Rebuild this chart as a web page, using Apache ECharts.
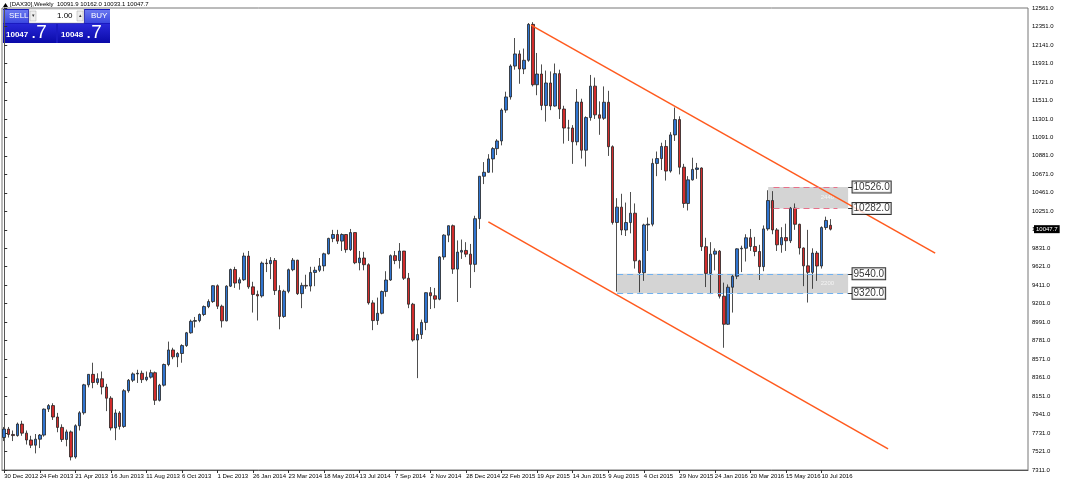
<!DOCTYPE html>
<html><head><meta charset="utf-8">
<script src="https://cdn.jsdelivr.net/npm/echarts@6/dist/echarts.min.js"></script>
<style>html,body{margin:0;padding:0;background:#fff}#c{width:1068px;height:483px}</style>
</head><body><div id="c"></div>
<script>
const opens = [
7680,7776,7715,7702,7833,7730,7652,7593,7661,7708,8003,8043,7913,7795,7658,7744,7459,7814,7961,8279,8398,8305,8348,8254,8127,7789,7959,7806,8212,8331,8403,8410,8338,8366,8417,8103,8275,8510,8675,8597,8635,8725,8870,9001,9009,9078,9168,9225,9405,9172,9006,9400,
9589,9435,9473,9742,9392,9306,9289,9662,9656,9692,9350,9056,9342,9587,9695,9315,9409,9401,9556,9581,9630,9768,9943,9987,9912,9987,9815,10009,9666,9720,9644,9210,9009,9092,9339,9470,9747,9691,9799,9490,9195,8788,8850,8988,9326,9291,9252,9732,9980,10087,9594,9787,9806,
9764,9648,10167,10649,10694,10846,10963,11050,11401,11550,11901,12039,11868,11967,12375,11689,11811,11454,11709,11447,11815,11413,11197,11197,11041,11492,10945,11316,11673,11347,11308,11490,10985,10124,10298,10038,10123,10229,9688,9553,10096,10104,10795,10850,10988,10708,11119,11293,10752,10340,10608,10727,
10743,9849,9545,9764,9798,9286,8967,9388,9513,9824,9831,9950,9851,9794,9622,10051,10373,10039,9870,9952,9916,10286,10103,9834,9631,9557,9776,9629,10066,10091.9];
const closes = [
7776,7715,7702,7833,7730,7652,7593,7661,7708,8003,8043,7913,7795,7658,7744,7459,7814,7961,8279,8398,8305,8348,8254,8127,7789,7959,7806,8212,8331,8403,8410,8338,8366,8417,8103,8275,8510,8675,8597,8635,8725,8870,9001,9009,9078,9168,9225,9405,9172,9006,9400,9589,
9435,9473,9742,9392,9306,9289,9662,9656,9692,9350,9056,9342,9587,9695,9315,9409,9401,9556,9581,9630,9768,9943,9987,9912,9987,9815,10009,9666,9720,9644,9210,9009,9092,9339,9470,9747,9691,9799,9490,9195,8788,8850,8988,9326,9291,9252,9732,9980,10087,9594,9787,9806,9764,
9648,10167,10649,10694,10846,10963,11050,11401,11550,11901,12039,11868,11967,12375,11689,11811,11454,11709,11447,11815,11413,11197,11197,11041,11492,10945,11316,11673,11347,11308,11490,10985,10124,10298,10038,10123,10229,9688,9553,10096,10104,10795,10850,10988,10708,11119,11293,10752,10340,10608,10727,10743,
9849,9545,9764,9798,9286,8967,9388,9513,9824,9831,9950,9851,9794,9622,10051,10373,10039,9870,9952,9916,10286,10103,9834,9631,9557,9776,9629,10066,10147,10047.7];
const highs = [
7800,7800,7760,7850,7870,7760,7700,7720,7720,8010,8060,8070,7960,7830,7770,7760,7830,7980,8290,8400,8530,8410,8430,8290,8150,8000,7980,8230,8345,8420,8450,8440,8430,8450,8430,8290,8520,8770,8700,8650,8740,8880,9020,9050,9090,9180,9250,9410,9420,9190,9410,9600,
9620,9500,9780,9800,9450,9350,9680,9710,9730,9720,9410,9360,9600,9720,9700,9440,9530,9620,9620,9720,9780,9950,10040,10040,10000,9990,10050,10010,9800,9790,9660,9240,9270,9350,9570,9760,9800,9890,9800,9550,9210,8920,9020,9330,9390,9380,9740,9990,10090,10100,9920,9930,9900,
9880,10200,10650,10810,10900,10980,11070,11420,11610,11920,12220,12080,12100,12390,12400,12050,11920,11850,11840,11930,11860,11450,11290,11230,11640,11530,11330,11800,11770,11500,11670,11620,11000,10400,10450,10350,10470,10340,9700,10110,10180,10850,10930,11030,11060,11150,11430,11330,10790,10650,10860,10800,
10750,9950,9900,9830,9810,9440,9420,9530,9830,9860,9990,10050,9960,9870,10090,10490,10480,10060,10070,10110,10300,10340,10110,9840,10040,9830,9800,10080,10190,10162.0];
const lows = [
7640,7680,7640,7690,7700,7600,7560,7500,7560,7690,7970,7880,7740,7630,7580,7420,7440,7760,7940,8250,8240,8280,8170,7980,7760,7650,7770,7790,8190,8310,8300,8300,8320,8350,8050,8090,8260,8490,8570,8480,8530,8710,8860,8930,8990,9060,9150,9210,9140,8930,9000,9390,
9380,9360,9460,9370,9100,9010,9270,9560,9480,9300,8910,9040,9320,9570,9300,9150,9370,9340,9400,9560,9570,9760,9900,9880,9800,9780,9800,9650,9580,9580,9190,8900,8960,9080,9280,9460,9650,9600,9470,9150,8770,8355,8800,8900,9140,9150,9240,9700,9900,9540,9220,9710,9730,
9380,9560,10050,10560,10690,10690,10890,11000,11370,11520,11860,11700,11810,11950,11670,11570,11400,11270,11400,11440,11300,11020,11050,10790,11000,10850,10760,11280,11300,11120,11290,10880,10100,9338,9980,9970,10000,9600,9330,9460,9800,10080,10650,10720,10600,10690,11050,10670,10290,10260,10600,10620,
9800,9390,9310,9580,9260,8700,8960,9100,9480,9560,9680,9800,9740,9470,9570,10030,9990,9800,9780,9800,9890,10040,9760,9400,9214,9370,9460,9600,10040,10033.1];
const yTicksMin = 7311, yTicksMax = 12561, yTickStep = 210;
const lastPrice = 10047.7;
const headerText = "[DAX30],Weekly  10091.9 10162.0 10033.1 10047.7";
const upperChannel = [[118.6, 12367], [209.6, 9776]];
const lowerChannel = [[109.0, 10130], [199.0, 7551]];
const resistZone = {x1: 172.0, x2: 190.0, top: 10526, bottom: 10282, dashX1: 173.2, dashX2: 187.6, tag: "2440"};
const supportZone = {x1: 138.0, x2: 190.0, top: 9540, bottom: 9320, dashX1: 138.0, dashX2: 190.0, tag: "2200"};
const levelLabels = [10526, 10282, 9540, 9320];

const NCAT = 231;
const LASTLBL = 186;
const MON = ['Jan','Feb','Mar','Apr','May','Jun','Jul','Aug','Sep','Oct','Nov','Dec'];
const cats = [];
const t0 = Date.UTC(2012, 11, 30);
for (let i = 0; i < NCAT; i++) {
  const d = new Date(t0 + i * 7 * 86400000);
  cats.push(d.getUTCDate() + ' ' + MON[d.getUTCMonth()] + ' ' + d.getUTCFullYear());
}
const candles = opens.map((o, i) => [o, closes[i], lows[i], highs[i]]);

function zoneSeries(z, dashColor) {
  return {
    type: 'line', xAxisIndex: 1, yAxisIndex: 0, data: [], z: 1, silent: true,
    markArea: { silent: true, itemStyle: { color: '#d4d4d4' },
      label: { show: true, position: 'insideRight', formatter: z.tag, color: '#f4f4f4', fontSize: 6, fontFamily: 'Liberation Sans', distance: 14 },
      data: [[{ coord: [z.x1, z.top] }, { coord: [z.x2, z.bottom] }]] },
    markLine: { silent: true, symbol: 'none', animation: false, label: { show: false },
      lineStyle: { color: dashColor, type: [6, 4], width: 1 },
      data: [
        [{ coord: [z.dashX1, z.top] }, { coord: [z.dashX2, z.top] }],
        [{ coord: [z.dashX1, z.bottom] }, { coord: [z.dashX2, z.bottom] }],
        [{ coord: [z.x2, z.top], lineStyle: { type: 'solid', color: '#333' } }, { coord: [z.x2 + 1.0, z.top], lineStyle: { type: 'solid', color: '#333' } }],
        [{ coord: [z.x2, z.bottom], lineStyle: { type: 'solid', color: '#333' } }, { coord: [z.x2 + 1.0, z.bottom], lineStyle: { type: 'solid', color: '#333' } }]
      ] }
  };
}

const chart = echarts.init(document.getElementById('c'), null, { renderer: 'canvas' });
chart.setOption({
  animation: false,
  backgroundColor: '#fff',
  grid: { left: 2, right: 40, top: 8, bottom: 13, show: true, borderColor: '#777', borderWidth: 1 },
  xAxis: [{
    type: 'category', data: cats, boundaryGap: true,
    axisLine: { lineStyle: { color: '#555' } },
    axisTick: { show: true, interval: (i) => i % 8 === 0 && i <= LASTLBL, length: 3, alignWithLabel: true, lineStyle: { color: '#333' } },
    axisLabel: { showMinLabel: true, hideOverlap: false, interval: (i) => i % 8 === 0 && i <= LASTLBL, formatter: (v, i) => (i <= LASTLBL ? v : ''), fontSize: 6, color: '#000', fontFamily: 'Liberation Sans', align: 'left', margin: 3 },
    splitLine: { show: false }
  }, {
    type: 'value', min: -0.5, max: NCAT - 0.5, show: false
  }],
  yAxis: [{
    type: 'value', position: 'right', min: yTicksMin, max: yTicksMax, interval: yTickStep,
    axisLine: { show: true, lineStyle: { color: '#555' } },
    axisTick: { show: true, length: 3, lineStyle: { color: '#333' } },
    axisLabel: { formatter: (v) => v.toFixed(1), fontSize: 6, color: '#000', fontFamily: 'Liberation Sans', margin: 4 },
    splitLine: { show: false }
  }],
  series: [
    zoneSeries(resistZone, '#e8708a'),
    zoneSeries(supportZone, '#6fb1f0'),
    {
      type: 'candlestick', data: candles, z: 3, barWidth: 3,
      itemStyle: { color: '#2f74d0', color0: '#d22c2c', borderColor: '#222', borderColor0: '#222', borderWidth: 0.8 },
      markLine: { silent: true, symbol: 'none', animation: false,
        lineStyle: { color: 'transparent' },
        label: { show: true, position: 'end', formatter: lastPrice.toFixed(1), backgroundColor: '#000', color: '#fff', fontSize: 6, padding: [1, 2], distance: 6, fontFamily: 'Liberation Sans' },
        data: [{ yAxis: lastPrice }] }
    },
    { type: 'line', xAxisIndex: 1, data: upperChannel, symbol: 'none', z: 4, lineStyle: { color: '#ff5a1e', width: 1.5 } },
    { type: 'line', xAxisIndex: 1, data: lowerChannel, symbol: 'none', z: 4, lineStyle: { color: '#ff5a1e', width: 1.5 } },
    {
      type: 'scatter', xAxisIndex: 1, symbolSize: 0, z: 5,
      data: levelLabels.map(v => [191.0, v]),
      label: { show: true, position: 'right', distance: 0, formatter: (p) => p.value[1].toFixed(1), color: '#000', fontSize: 10, fontFamily: 'Liberation Sans', backgroundColor: '#fff', borderColor: '#000', borderWidth: 1, padding: [1, 1, 0, 1] }
    }
  ],
  graphic: [
    { type: 'polygon', shape: { points: [[3, 7], [5.5, 3], [8, 7]] }, style: { fill: '#000' } },
    { type: 'text', left: 10, top: 1, style: { text: headerText, font: '6px Liberation Sans', fill: '#000' } },
    { type: 'rect', shape: { x: 3, y: 9, width: 107, height: 34 }, style: { fill: '#1a1ac0' } },
    { type: 'rect', shape: { x: 3, y: 10, width: 25, height: 13 }, style: { fill: new echarts.graphic.LinearGradient(0, 0, 0, 1, [{ offset: 0, color: '#6a78f0' }, { offset: 1, color: '#3b48e0' }]) } },
    { type: 'text', left: 9, top: 12, style: { text: 'SELL', font: '8px Liberation Sans', fill: '#fff' } },
    { type: 'rect', shape: { x: 29, y: 9, width: 55, height: 14 }, style: { fill: '#fff', stroke: '#999', lineWidth: 0.5 } },
    { type: 'rect', shape: { x: 30, y: 11, width: 6, height: 10 }, style: { fill: '#eee', stroke: '#aaa', lineWidth: 0.5 } },
    { type: 'rect', shape: { x: 77, y: 11, width: 6, height: 10 }, style: { fill: '#eee', stroke: '#aaa', lineWidth: 0.5 } },
    { type: 'text', left: 32, top: 13, style: { text: '▾', font: '5px Liberation Sans', fill: '#333' } },
    { type: 'text', left: 79, top: 13, style: { text: '▴', font: '5px Liberation Sans', fill: '#333' } },
    { type: 'text', left: 57, top: 12, style: { text: '1.00', font: '8px Liberation Sans', fill: '#000' } },
    { type: 'rect', shape: { x: 85, y: 10, width: 25, height: 13 }, style: { fill: new echarts.graphic.LinearGradient(0, 0, 0, 1, [{ offset: 0, color: '#6a78f0' }, { offset: 1, color: '#3b48e0' }]) } },
    { type: 'text', left: 91, top: 12, style: { text: 'BUY', font: '8px Liberation Sans', fill: '#fff' } },
    { type: 'rect', shape: { x: 3, y: 24, width: 53, height: 19 }, style: { fill: new echarts.graphic.LinearGradient(0, 0, 0, 1, [{ offset: 0, color: '#2828d8' }, { offset: 1, color: '#0a0aa8' }]) } },
    { type: 'rect', shape: { x: 58, y: 24, width: 52, height: 19 }, style: { fill: new echarts.graphic.LinearGradient(0, 0, 0, 1, [{ offset: 0, color: '#2828d8' }, { offset: 1, color: '#0a0aa8' }]) } },
    { type: 'text', left: 6, top: 31, style: { text: '10047', font: 'bold 8px Liberation Sans', fill: '#fff' } },
    { type: 'text', left: 31, top: 23, style: { text: '.7', font: '19px Liberation Sans', fill: '#fff' } },
    { type: 'text', left: 61, top: 31, style: { text: '10048', font: 'bold 8px Liberation Sans', fill: '#fff' } },
    { type: 'text', left: 86, top: 23, style: { text: '.7', font: '19px Liberation Sans', fill: '#fff' } }
  ]
});
</script></body></html>
